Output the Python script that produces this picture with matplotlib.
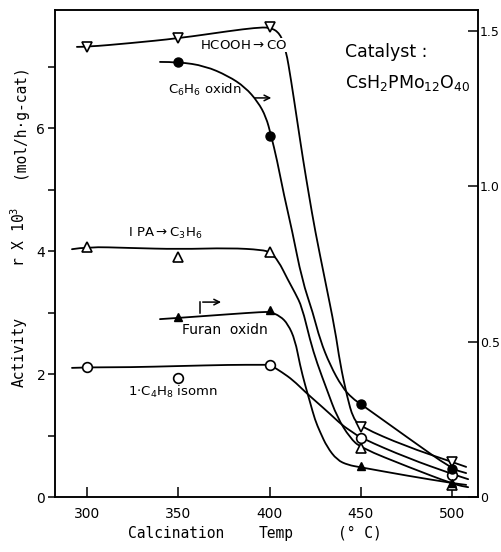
import numpy as np
import matplotlib
matplotlib.use("Agg")
import matplotlib.pyplot as plt
from matplotlib.path import Path
from matplotlib.patches import PathPatch

plt.rcParams['font.family'] = ['DejaVu Sans']
plt.rcParams['mathtext.default'] = 'regular'

# measured points (calcination temperature, degC)
temp = [300, 350, 400, 450, 500]
temp_right = [350, 400, 450, 500]

hcooh = [7.32, 7.46, 7.64, 1.14, 0.57]        # left axis
ipa = [4.07, 3.90, 3.98, 0.80, 0.20]          # left axis
butene = [2.11, 1.93, 2.14, 0.96, 0.36]       # left axis
benzene = [1.40, 1.16, 0.30, 0.09]            # right axis
furan = [0.58, 0.60, 0.10, 0.045]             # right axis

# hand drawn curves
hcooh_curve_t = [294.5, 300, 323.6, 350.4, 378.4, 392.1, 400.3, 405.8, 409.0, 411.8,
                 415.1, 418.4, 421.6, 424.9, 430.4, 435.9, 438.6, 442.5, 445.8, 450.1,
                 474.2, 500.0, 507.7]
hcooh_curve_v = [7.32, 7.32, 7.38, 7.46, 7.58, 7.63, 7.64, 7.54, 7.27, 6.78,
                 6.13, 5.48, 4.91, 4.34, 3.53, 2.72, 2.18, 1.63, 1.28, 1.14,
                 0.83, 0.57, 0.49]

ipa_curve_t = [291.8, 300, 323.6, 350.4, 378.4, 395.9, 400.3, 404.7, 410.1, 414.0,
               417.8, 422.2, 426.0, 431.5, 437.0, 444.1, 450.1, 475.9, 501.6, 508.8]
ipa_curve_v = [4.03, 4.07, 4.05, 4.03, 4.05, 4.02, 3.98, 3.85, 3.53, 3.32,
               3.09, 2.55, 2.18, 1.74, 1.30, 0.96, 0.80, 0.49, 0.20, 0.16]

butene_curve_t = [291.8, 300, 323.6, 350.4, 378.4, 395.9, 400.3, 406.8, 412.9, 419.5,
                  426.0, 433.2, 439.7, 445.2, 450.1, 475.9, 500.5, 508.8]
butene_curve_v = [2.10, 2.11, 2.11, 2.13, 2.15, 2.15, 2.15, 2.03, 1.90, 1.71,
                  1.54, 1.35, 1.17, 1.06, 0.96, 0.63, 0.37, 0.29]

benzene_curve_t = [340.0, 350.4, 364.7, 377.3, 386.6, 393.7, 398.1, 400.8, 404.1, 407.9,
                   412.3, 417.8, 423.8, 427.7, 433.2, 439.7, 445.2, 450.7, 475.9, 500.0,
                   507.7]
benzene_curve_v = [1.399, 1.399, 1.386, 1.354, 1.318, 1.270, 1.222, 1.164, 1.084, 0.971,
                   0.859, 0.698, 0.592, 0.505, 0.424, 0.354, 0.318, 0.296, 0.190, 0.090,
                   0.077]

furan_curve_t = [340.0, 350.4, 378.4, 395.9, 400.3, 405.8, 410.1, 414.0, 416.7, 419.5,
                 422.2, 424.9, 427.7, 431.5, 437.0, 443.0, 449.6, 475.9, 500.0, 507.7]
furan_curve_v = [0.572, 0.576, 0.588, 0.595, 0.595, 0.582, 0.556, 0.505, 0.424, 0.360,
                 0.305, 0.248, 0.209, 0.161, 0.119, 0.103, 0.096, 0.068, 0.045, 0.039]

LW = 1.3


def smooth_curve(a, xs, ys):
    # quadratic bezier through midpoints, keeps the hand drawn look
    verts = [(xs[0], ys[0])]
    codes = [Path.MOVETO]
    for i in range(1, len(xs) - 1):
        mx = (xs[i] + xs[i + 1]) / 2.0
        my = (ys[i] + ys[i + 1]) / 2.0
        verts += [(xs[i], ys[i]), (mx, my)]
        codes += [Path.CURVE3, Path.CURVE3]
    verts.append((xs[-1], ys[-1]))
    codes.append(Path.LINETO)
    a.add_patch(PathPatch(Path(verts, codes), facecolor='none', edgecolor='black',
                          lw=LW, zorder=2, capstyle='round', joinstyle='round'))


fig = plt.figure(figsize=(5.01, 5.52), dpi=100)
ax = fig.add_axes([0.1098, 0.0996, 0.8443, 0.8823])
ax2 = ax.twinx()

ax.set_xlim(282.5, 514.2)
ax.set_ylim(0, 7.92)
ax2.set_ylim(0, 1.566)

# curves
smooth_curve(ax, hcooh_curve_t, hcooh_curve_v)
smooth_curve(ax, ipa_curve_t, ipa_curve_v)
smooth_curve(ax, butene_curve_t, butene_curve_v)
smooth_curve(ax2, benzene_curve_t, benzene_curve_v)
smooth_curve(ax2, furan_curve_t, furan_curve_v)

# markers
ax.plot(temp, hcooh, 'v', ms=6.5, mfc='white', mec='black', mew=1.2, ls='none', zorder=4)
ax.plot(temp, ipa, '^', ms=6.5, mfc='white', mec='black', mew=1.2, ls='none', zorder=4)
ax.plot(temp, butene, 'o', ms=7, mfc='white', mec='black', mew=1.2, ls='none', zorder=4)
ax2.plot(temp_right, benzene, 'o', ms=6.5, mfc='black', mec='black', ls='none', zorder=4)
ax2.plot(temp_right, furan, '^', ms=5.5, mfc='black', mec='black', ls='none', zorder=4)

# ticks
ax.set_xticks(temp)
ax.set_xticklabels(['300', '350', '400', '450', '500'])
ax.set_yticks([0, 2, 4, 6])
ax.set_yticks([1, 3, 5, 7], minor=True)
ax.tick_params(axis='x', direction='in', length=7, width=1.1, pad=7, labelsize=10)
ax.tick_params(axis='y', which='both', direction='out', length=5, width=1.1, pad=2, labelsize=10)
ax2.set_yticks([0, 0.5, 1.0, 1.5])
ax2.set_yticklabels(['0', '0.5', '1.0', '1.5'])
ax2.tick_params(axis='y', direction='in', length=7, width=1.1, pad=1.5, labelsize=9)
for a in (ax, ax2):
    for s in a.spines.values():
        s.set_linewidth(1.1)

# annotations
bb = dict(facecolor='white', edgecolor='none', pad=0.5)
ax.text(361.9, 7.35, r'HCOOH$\rightarrow$CO', fontsize=9.5, ha='left', va='center', bbox=bb, zorder=5)
ax.text(344.4, 6.62, r'C$_6$H$_6$ oxidn', fontsize=9.5, ha='left', va='center', bbox=bb, zorder=5)
ax.text(322.5, 4.29, r'I PA$\rightarrow$C$_3$H$_6$', fontsize=9.5, ha='left', va='center', zorder=5)
ax.text(352.1, 2.72, 'Furan  oxidn', fontsize=10, ha='left', va='center', bbox=bb, zorder=5)
ax.text(322.5, 1.71, r'1$\cdot$C$_4$H$_8$ isomn', fontsize=9.5, ha='left', va='center', zorder=5)

# right-axis arrows
ax.annotate('', xy=(402.5, 6.49), xytext=(390.4, 6.49),
            arrowprops=dict(arrowstyle='->', lw=1.1, color='black'), zorder=5)
ax.plot([361.9, 361.9], [2.99, 3.17], color='black', lw=1.1, zorder=5)
ax.annotate('', xy=(375.0, 3.17), xytext=(361.9, 3.17),
            arrowprops=dict(arrowstyle='->', lw=1.1, color='black'), zorder=5)

ax.text(0.686, 0.914, 'Catalyst :', transform=ax.transAxes, fontsize=12.5, ha='left', va='center')
ax.text(0.686, 0.850, r'CsH$_2$PMo$_{12}$O$_{40}$', transform=ax.transAxes, fontsize=12.5,
        ha='left', va='center')

# axis labels
mono = 'DejaVu Sans Mono'
fig.text(0.038, 0.362, 'Activity', rotation=90, family=mono, fontsize=10.5, ha='center', va='center')
fig.text(0.038, 0.571, r'r X 10$^3$', rotation=90, family=mono, fontsize=10.5, ha='center', va='center')
fig.text(0.038, 0.781, '(mol/h\u00b7g-cat)', rotation=90, family=mono, fontsize=10.5, ha='center', va='center')
fig.text(0.351, 0.034, 'Calcination', family=mono, fontsize=10.5, ha='center', va='center')
fig.text(0.552, 0.034, 'Temp', family=mono, fontsize=10.5, ha='center', va='center')
fig.text(0.719, 0.034, '(\u00b0 C)', family=mono, fontsize=10.5, ha='center', va='center')

fig.savefig('out.png', dpi=100)
